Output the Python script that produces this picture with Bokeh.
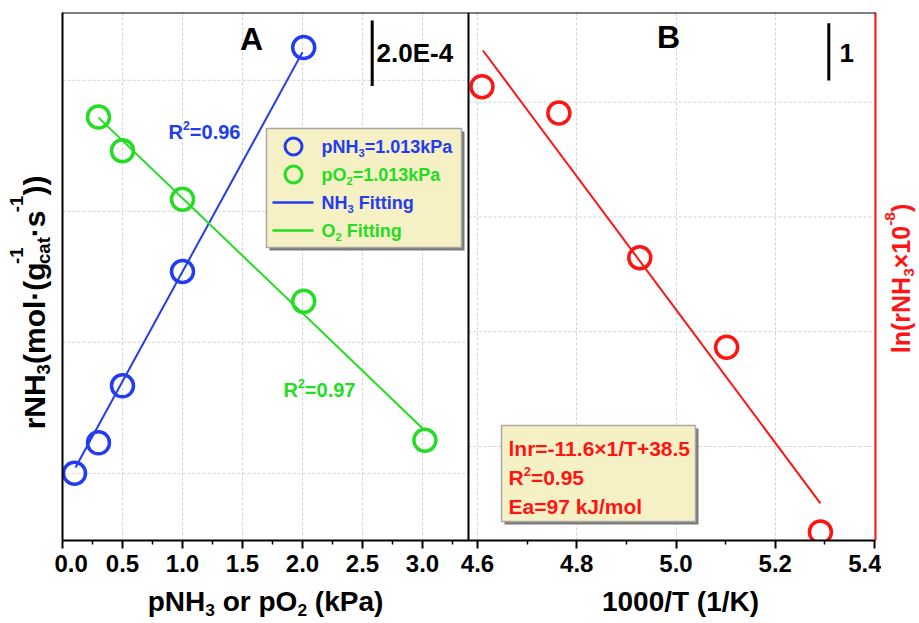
import math
from bokeh.plotting import figure
from bokeh.layouts import row, column
from bokeh.models import Range1d, LinearAxis, FixedTicker, Span, Label
from bokeh.embed import file_html
from bokeh.resources import INLINE

FONT = "Liberation Sans"
BLUE = "#233cf0"
GREEN = "#22dd22"
RED = "#ff1414"

# ---------------- data (panel A: rate in units of 1e-4) ----------------
p_nh3_x = [0.10, 0.30, 0.50, 1.00, 2.01]
p_nh3_rate = [2.00, 2.93, 4.67, 8.16, 15.00]
p_o2_x = [0.30, 0.50, 1.00, 2.01, 3.02]
p_o2_rate = [12.88, 11.85, 10.37, 7.25, 3.01]
nh3_fit_x = [0.108, 2.00]
nh3_fit_y = [2.18, 14.86]
o2_fit_x = [0.30, 3.01]
o2_fit_y = [12.86, 3.34]
scale_a = 2.0  # 2.0E-4

# ---------------- data (panel B: Arrhenius) ----------------
inv_T = [4.609, 4.764, 4.927, 5.102, 5.291]
ln_rate = [-15.73, -16.19, -18.71, -20.27, -23.49]
arr_fit_x = [4.611, 5.291]
arr_fit_y = [-15.10, -22.99]
scale_b = 1.0

a_major = [0.0, 0.5, 1.0, 1.5, 2.0, 2.5, 3.0]
a_minor = [0.25, 0.75, 1.25, 1.75, 2.25, 2.75, 3.25]
b_major = [4.6, 4.8, 5.0, 5.2, 5.4]
b_minor = [4.7, 4.9, 5.1, 5.3]
a_grid = [2, 6, 10, 14]
b_grid = [-16, -18, -20, -22]

# ---------------- geometry (page pixels) ----------------
FL, FR, FT, FB = 62, 875, 12, 540
XA = (0.0, 813 / 120)
YA = (-0.052, -0.052 + 528 / 32.75)
XB = (4.6 - 415 / 496.25, 4.6 + 398 / 496.25)
YB = (-23.637, -14.438)

L_W = 54
M_BL, M_BR, M_BT, M_BB = 8, 6, 12, 46
M_H = M_BT + 528 + M_BB
R_X0 = L_W + M_BL + 813 + M_BR
R_W = 919 - R_X0
TOTAL_W = R_X0 + R_W
B_H = 622 - M_H


def ax(px):
    return XA[0] + (px - FL) * (XA[1] - XA[0]) / (FR - FL)


def ay(py):
    return YA[0] + (FB - py) * (YA[1] - YA[0]) / (FB - FT)


def bx(px):
    return XB[0] + (px - FL) * (XB[1] - XB[0]) / (FR - FL)


def by(py):
    return YB[0] + (FB - py) * (YB[1] - YB[0]) / (FB - FT)


def b2a(xb):
    return XA[0] + (xb - XB[0]) / (XB[1] - XB[0]) * (XA[1] - XA[0])


p = figure(frame_width=813, frame_height=528, x_range=Range1d(*XA), y_range=Range1d(*YA),
           output_backend="svg", toolbar_location=None,
           min_border_left=M_BL, min_border_right=M_BR, min_border_top=M_BT, min_border_bottom=M_BB)
p.extra_x_ranges = {"xb": Range1d(*XB)}
p.extra_y_ranges = {"yb": Range1d(*YB)}
p.outline_line_color = None
p.background_fill_color = "white"
p.border_fill_color = "white"

# x axis (shared, two scales)
xaxis = p.xaxis[0]
ticks = a_major + [b2a(t) for t in b_major]
minors = a_minor + [b2a(t) for t in b_minor]
xaxis.ticker = FixedTicker(ticks=ticks, minor_ticks=minors)
ov = {t: f"{t:.1f}" for t in a_major}
ov.update({b2a(t): f"{t:.1f}" for t in b_major})
xaxis.major_label_overrides = ov
xaxis.axis_line_width = 2
xaxis.axis_line_color = "black"
xaxis.major_tick_line_width = 2
xaxis.major_tick_out = 8
xaxis.major_tick_in = 0
xaxis.minor_tick_line_width = 1.5
xaxis.minor_tick_out = 4
xaxis.minor_tick_in = 0
xaxis.major_label_text_font = FONT
xaxis.major_label_text_font_size = "24px"
xaxis.major_label_text_font_style = "bold"
xaxis.major_label_text_color = "black"
xaxis.major_label_standoff = 6

yaxis = p.yaxis[0]
yaxis.ticker = FixedTicker(ticks=[])
yaxis.axis_line_width = 2
yaxis.axis_line_color = "black"
yaxis.major_tick_line_color = None
yaxis.minor_tick_line_color = None
yaxis.major_tick_out = 0
yaxis.minor_tick_out = 0
yaxis.major_label_standoff = 0
yaxis.major_label_text_font_size = "0px"

raxis = LinearAxis(y_range_name="yb", ticker=FixedTicker(ticks=[]), axis_line_color=RED,
                   axis_line_width=2, major_tick_line_color=None, minor_tick_line_color=None,
                   major_tick_out=0, minor_tick_out=0, major_label_standoff=0,
                   major_label_text_font_size="0px")
p.add_layout(raxis, "right")

p.ygrid.visible = False
p.xgrid.grid_line_color = "#d2d2d2"
p.xgrid.grid_line_dash = "3 2"
p.xgrid.grid_line_width = 1

# horizontal grids per panel
p.segment(x0=XA[0], x1=ax(468), y0=a_grid, y1=a_grid, line_color="#d2d2d2",
          line_dash="3 2", line_width=1)
p.segment(x0=bx(468), x1=XB[1], y0=b_grid, y1=b_grid, line_color="#d2d2d2",
          line_dash="3 2", line_width=1, x_range_name="xb", y_range_name="yb")

# frame top and divider
p.add_layout(Span(location=YA[1], dimension="width", line_color="black", line_width=2))
p.add_layout(Span(location=ax(468), dimension="height", line_color="black", line_width=2))

# boxes (legend + equation box) with shadows
p.quad(left=ax(269), right=ax(464), top=ay(131), bottom=ay(250), fill_color="#7a7a7a", line_color=None)
p.quad(left=ax(266), right=ax(461), top=ay(128), bottom=ay(247), fill_color="#f6f1c4",
       line_color="#a8a8a8", line_width=1.5)
p.quad(left=ax(504), right=ax(698), top=ay(428), bottom=ay(524), fill_color="#7a7a7a", line_color=None)
p.quad(left=ax(501), right=ax(695), top=ay(425), bottom=ay(521), fill_color="#f6f1c4",
       line_color="#a8a8a8", line_width=1.5)

# panel A data
p.line(nh3_fit_x, nh3_fit_y, line_color=BLUE, line_width=2)
p.line(o2_fit_x, o2_fit_y, line_color=GREEN, line_width=2)
p.scatter(p_nh3_x, p_nh3_rate, marker="circle", size=22, line_color=BLUE, line_width=3.5, fill_alpha=0)
p.scatter(p_o2_x, p_o2_rate, marker="circle", size=22, line_color=GREEN, line_width=3.5, fill_alpha=0)

# panel B data
p.line(arr_fit_x, arr_fit_y, line_color=RED, line_width=2, x_range_name="xb", y_range_name="yb")
p.scatter(inv_T, ln_rate, marker="circle", size=22, line_color=RED, line_width=3.5, fill_alpha=0,
          x_range_name="xb", y_range_name="yb")

# legend markers
p.scatter([ax(293)], [ay(146)], marker="circle", size=17, line_color=BLUE, line_width=3, fill_alpha=0)
p.scatter([ax(293)], [ay(174)], marker="circle", size=17, line_color=GREEN, line_width=3, fill_alpha=0)
p.segment(x0=ax(272), x1=ax(313), y0=ay(202), y1=ay(202), line_color=BLUE, line_width=2.5)
p.segment(x0=ax(272), x1=ax(313), y0=ay(230), y1=ay(230), line_color=GREEN, line_width=2.5)

# scale bars
ya_top = ay(20)
p.segment(x0=ax(371.7), x1=ax(371.7), y0=ya_top - scale_a, y1=ya_top, line_color="black", line_width=3)
yb_top = by(22.7)
p.segment(x0=bx(828.3), x1=bx(828.3), y0=yb_top - scale_b, y1=yb_top, line_color="black", line_width=3,
          x_range_name="xb", y_range_name="yb")


# ---------------- auxiliary text strips ----------------
def strip(ox, oy, w, h):
    f = figure(frame_width=w, frame_height=h, x_range=Range1d(0, w), y_range=Range1d(0, h),
               output_backend="svg", toolbar_location=None, x_axis_location=None,
               y_axis_location=None, min_border=0, outline_line_color=None)
    f.grid.visible = False
    f.background_fill_color = "white"
    f.border_fill_color = "white"
    return f, (lambda px: px - ox), (lambda py: (oy + h) - py)


left_fig, lx, ly = strip(0, 0, L_W, M_H)
right_fig, rx, ry = strip(R_X0, 0, R_W, M_H)
bottom_fig, bxp, byp = strip(0, M_H, TOTAL_W, B_H)

# ---------------- rich text helper ----------------
W = {" ": .278, "(": .333, ")": .333, "-": .333, ".": .278, "/": .278, "=": .584, "+": .584,
     "×": .584, "·": .278, "A": .722, "B": .722, "E": .667, "F": .611, "H": .722, "J": .556,
     "K": .722, "N": .722, "O": .778, "P": .667, "R": .722, "T": .611, "a": .556, "c": .556,
     "g": .611, "i": .278, "k": .556, "l": .278, "m": .889, "n": .611, "o": .611, "p": .611,
     "r": .389, "s": .556, "t": .333}
MID = 0.35  # distance from baseline to the label's vertical anchor (fraction of font size)


def tw(s, fs):
    return sum(W.get(ch, 0.556) for ch in s) * fs


def rich(target, segs, px, py, fs, color, vertical=False, anchor="left", sub=0.2, sup=-0.42,
         small=0.62):
    fig, fx, fy = target
    sf = fs * small

    def w(seg):
        k = seg[0]
        if k == "n":
            return tw(seg[1], fs)
        if k in ("sub", "sup"):
            return tw(seg[1], sf)
        return max(tw(seg[1], sf), tw(seg[2], sf))

    total = sum(w(s) for s in segs)
    pos = -total / 2 if anchor == "center" else 0.0
    for seg in segs:
        k = seg[0]
        if k == "n":
            items = [(seg[1], fs, 0)]
        elif k == "sub":
            items = [(seg[1], sf, sub * fs)]
        elif k == "sup":
            items = [(seg[1], sf, sup * fs)]
        else:
            items = [(seg[1], sf, sub * fs), (seg[2], sf, sup * fs)]
        for text, size, off in items:
            stripped = text.lstrip(" ")
            lead = tw(text[:len(text) - len(stripped)], size)
            off2 = off - MID * size
            if vertical:
                X, Y = px + off2, py - pos - lead
            else:
                X, Y = px + pos + lead, py + off2
            fig.add_layout(Label(x=fx(X), y=fy(Y), text=stripped, text_font=FONT,
                                 text_font_size=f"{size:.1f}px", text_font_style="bold",
                                 text_color=color, angle=(math.pi / 2 if vertical else 0),
                                 text_align="left", text_baseline="middle"))
        pos += w(seg)


MAIN = (p, ax, ay)
LEFT = (left_fig, lx, ly)
RIGHT = (right_fig, rx, ry)
BOTTOM = (bottom_fig, bxp, byp)

# panel titles
rich(MAIN, [("n", "A")], 251, 50, 32, "black", anchor="center")
rich(MAIN, [("n", "B")], 668, 48, 32, "black", anchor="center")

# scale texts
rich(MAIN, [("n", "2.0E-4")], 376, 62, 26, "black")
rich(MAIN, [("n", "1")], 839, 62, 26, "black")

# R^2 labels in A
rich(MAIN, [("n", "R"), ("sup", "2"), ("n", "=0.96")], 168, 138, 20, BLUE)
rich(MAIN, [("n", "R"), ("sup", "2"), ("n", "=0.97")], 283, 396, 20, GREEN)

# legend texts
rich(MAIN, [("n", "pNH"), ("sub", "3"), ("n", "=1.013kPa")], 321, 152.5, 18, BLUE)
rich(MAIN, [("n", "pO"), ("sub", "2"), ("n", "=1.013kPa")], 321, 180.5, 18, GREEN)
rich(MAIN, [("n", "NH"), ("sub", "3"), ("n", " Fitting")], 321, 208.5, 18, BLUE)
rich(MAIN, [("n", "O"), ("sub", "2"), ("n", " Fitting")], 321, 236.5, 18, GREEN)

# equation box texts
rich(MAIN, [("n", "lnr=-11.6×1/T+38.5")], 508, 455, 21, RED)
rich(MAIN, [("n", "R"), ("sup", "2"), ("n", "=0.95")], 508, 484, 21, RED)
rich(MAIN, [("n", "Ea=97 kJ/mol")], 508, 513, 21, RED)

# axis titles
rich(BOTTOM, [("n", "pNH"), ("sub", "3"), ("n", " or pO"), ("sub", "2"), ("n", " (kPa)")], 265, 611,
     28, "black", anchor="center", sub=0.16)
rich(BOTTOM, [("n", "1000/T (1/K)")], 680, 611, 28, "black", anchor="center")
rich(LEFT, [("n", "rNH"), ("sub", "3"), ("n", "(mol·(g"), ("stack", "cat", "-1"), ("n", "·s"),
            ("sup", "-1"), ("n", "))")], 44, 290, 30, "black", vertical=True, anchor="center",
     sub=0.17, sup=-0.72)
rich(RIGHT, [("n", "ln(rNH"), ("sub", "3"), ("n", "×10"), ("sup", "-8"), ("n", ")")], 909, 266, 25,
     RED, vertical=True, anchor="center", sub=0.18, sup=-0.55)

layout = column(row(left_fig, p, right_fig), bottom_fig)
open("out.html", "w").write(file_html(layout, INLINE))
